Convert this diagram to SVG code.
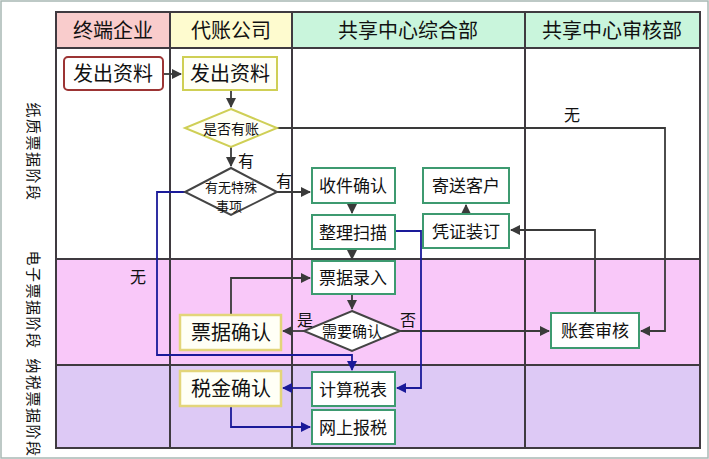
<svg xmlns="http://www.w3.org/2000/svg" width="709" height="459" viewBox="0 0 709 459">
<style>
text{font-family:"Noto Sans CJK SC","Noto Sans CJK JP",sans-serif;fill:#111;text-anchor:middle}
.hdr{font-size:20px}
.grid{stroke:#3f3a40;stroke-width:2;fill:none}
.g{fill:#fff;stroke:#3d9a70;stroke-width:2}
.y{fill:#fffff6;stroke:#cfcf55;stroke-width:2}
.yb{fill:#fffff6;stroke:#e3d57a;stroke-width:2.5}
.r{fill:#fff;stroke:#9c3434;stroke-width:2}
.d{fill:#fff;stroke:#444;stroke-width:2}
.c{stroke:#3a3a3a;stroke-width:1.8;fill:none}
.b{stroke:#1a1a99;stroke-width:1.8;fill:none}
.n17{font-size:17px}
.n20{font-size:20px}
.lab{font-size:16px}
.side{font-size:15px;letter-spacing:1.5px}
</style>
<defs>
<marker id="ah" markerWidth="10" markerHeight="10" refX="9" refY="5" orient="auto" markerUnits="userSpaceOnUse"><path d="M0,0 L10,5 L0,10 Z" fill="#3a3a3a"/></marker>
<marker id="ab" markerWidth="10" markerHeight="10" refX="9" refY="5" orient="auto" markerUnits="userSpaceOnUse"><path d="M0,0 L10,5 L0,10 Z" fill="#1a1a99"/></marker>
</defs>
<rect x="0" y="0" width="709" height="459" fill="#fff"/>
<rect x="1" y="1" width="707" height="457" fill="none" stroke="#a8b8b4" stroke-width="1.5"/>
<g id="lanes">
<rect x="56" y="259" width="644" height="106" fill="#f9c8f9"/>
<rect x="56" y="365" width="644" height="83" fill="#ddc9f5"/>
<rect x="56" y="12" width="114" height="36" fill="#f9cccc"/>
<rect x="170" y="12" width="122" height="36" fill="#fefbcf"/>
<rect x="292" y="12" width="233" height="36" fill="#c9f5dc"/>
<rect x="525" y="12" width="175" height="36" fill="#c9f5dc"/>
<rect x="56" y="12" width="644" height="436" class="grid"/>
<line x1="56" y1="48" x2="700" y2="48" class="grid"/>
<line x1="56" y1="259" x2="700" y2="259" class="grid"/>
<line x1="56" y1="365" x2="700" y2="365" class="grid"/>
<line x1="170" y1="12" x2="170" y2="448" class="grid"/>
<line x1="292" y1="12" x2="292" y2="448" class="grid"/>
<line x1="525" y1="12" x2="525" y2="448" class="grid"/>
<text x="113" y="38" class="hdr">终端企业</text>
<text x="231" y="38" class="hdr">代账公司</text>
<text x="408" y="38" class="hdr">共享中心综合部</text>
<text x="612" y="38" class="hdr">共享中心审核部</text>
<text class="side" transform="translate(28,152) rotate(90)">纸质票据阶段</text>
<text class="side" transform="translate(28,300) rotate(90)">电子票据阶段</text>
<text class="side" transform="translate(28,408) rotate(90)">纳税票据阶段</text>
</g>
<g id="connectors">
<path class="c" d="M163,74 H181" marker-end="url(#ah)"/>
<path class="c" d="M231,90 V107" marker-end="url(#ah)"/>
<path class="c" d="M277,128 H665 V331 H641" marker-end="url(#ah)"/>
<path class="c" d="M231,147 V166" marker-end="url(#ah)"/>
<path class="c" d="M277,192 H310" marker-end="url(#ah)"/>
<path class="c" d="M352,203 V213" marker-end="url(#ah)"/>
<path class="c" d="M352,249 V259" marker-end="url(#ah)"/>
<path class="c" d="M352,294 V309" marker-end="url(#ah)"/>
<path class="c" d="M304,331 H283" marker-end="url(#ah)"/>
<path class="c" d="M400,331 H549" marker-end="url(#ah)"/>
<path class="c" d="M231,315 V278 H310" marker-end="url(#ah)"/>
<path class="c" d="M595,313 V230 H511" marker-end="url(#ah)"/>
<path class="c" d="M466,214 V205" marker-end="url(#ah)"/>
<path class="b" d="M185,192 H157 V355 H352 V370" marker-end="url(#ab)"/>
<path class="b" d="M395,231 H421 V388 H397" marker-end="url(#ab)"/>
<path class="b" d="M312,388 H283" marker-end="url(#ab)"/>
<path class="b" d="M231,406 V427 H310" marker-end="url(#ab)"/>
<text x="572" y="121" class="lab">无</text>
<text x="246" y="167" class="lab">有</text>
<text x="284" y="187" class="lab">有</text>
<text x="138" y="283" class="lab">无</text>
<text x="305" y="326" class="lab">是</text>
<text x="408" y="326" class="lab">否</text>
</g>
<g id="n1"><rect x="64" y="57" width="99" height="33" rx="4" class="r"/><text x="113" y="81" class="n20">发出资料</text></g>
<g id="n2"><rect x="183" y="57" width="94" height="33" class="y"/><text x="230" y="81" class="n20">发出资料</text></g>
<g id="n3"><polygon points="231,109 277,128 231,147 185,128" class="y"/><text x="231" y="134" style="font-size:14px">是否有账</text></g>
<g id="n4"><polygon points="231,168 277,192 231,215 185,192" class="d"/><text x="231" y="192" style="font-size:13px">有无特殊</text><text x="229" y="211" style="font-size:13px">事项</text></g>
<g id="n5"><rect x="312" y="168" width="83" height="35" class="g"/><text x="353" y="192" class="n17">收件确认</text></g>
<g id="n6"><rect x="312" y="215" width="83" height="34" class="g"/><text x="353" y="239" class="n17">整理扫描</text></g>
<g id="n7"><rect x="312" y="261" width="83" height="33" class="g"/><text x="353" y="284" class="n17">票据录入</text></g>
<g id="n8"><rect x="423" y="168" width="86" height="35" class="g"/><text x="466" y="192" class="n17">寄送客户</text></g>
<g id="n9"><rect x="423" y="214" width="86" height="34" class="g"/><text x="466" y="238" class="n17">凭证装订</text></g>
<g id="n10"><polygon points="352,311 400,331 352,351 304,331" class="d"/><text x="352" y="337" style="font-size:15px">需要确认</text></g>
<g id="n11"><rect x="180" y="315" width="101" height="35" class="yb"/><text x="231" y="340" class="n20">票据确认</text></g>
<g id="n12"><rect x="551" y="313" width="88" height="35" class="g"/><text x="595" y="337" class="n17">账套审核</text></g>
<g id="n13"><rect x="312" y="372" width="83" height="34" class="g"/><text x="353" y="396" class="n17">计算税表</text></g>
<g id="n14"><rect x="312" y="410" width="83" height="34" class="g"/><text x="353" y="434" class="n17">网上报税</text></g>
<g id="n15"><rect x="180" y="371" width="101" height="35" class="yb"/><text x="231" y="396" class="n20">税金确认</text></g>
</svg>
